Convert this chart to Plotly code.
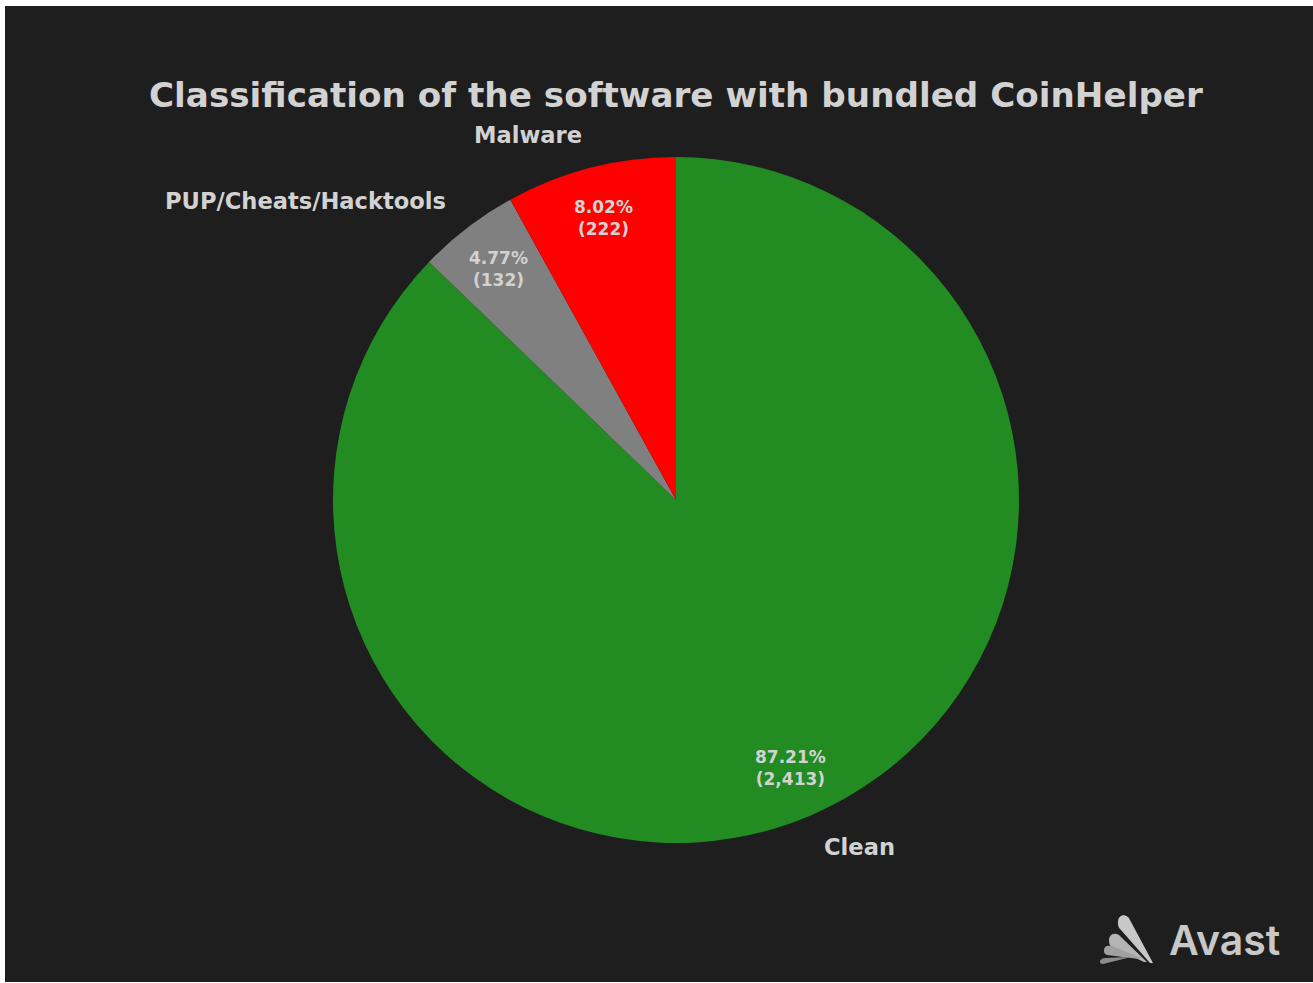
import numpy as np
import plotly.graph_objects as go

# ---- data ----
categories = ["Clean", "PUP/Cheats/Hacktools", "Malware"]
counts = [2413, 132, 222]
colors = ["#228B22", "#808080", "#FF0000"]
title_text = "Classification of the software with bundled CoinHelper"

W, H = 1313, 983
CX, CY, R = 676, 500, 343
BG = "#1e1e1e"
TXT = "#d2d2d2"
FONT = "DejaVu Sans"

fig = go.Figure()

# hidden pixel-coordinate axes for annotations/shapes
fig.add_trace(go.Scatter(x=[None], y=[None], showlegend=False, hoverinfo="skip"))

fig.add_trace(go.Pie(
    labels=categories,
    values=counts,
    marker=dict(colors=colors, line=dict(width=0)),
    sort=False,
    direction="clockwise",
    rotation=0,
    textinfo="none",
    hoverinfo="label+value+percent",
    showlegend=False,
    domain=dict(x=[(CX - R) / W, (CX + R) / W], y=[1 - (CY + R) / H, 1 - (CY - R) / H]),
))

total = float(np.sum(counts))
fracs = np.array(counts) / total
starts = np.concatenate([[0], np.cumsum(fracs)[:-1]])
mids = (starts + fracs / 2) * 2 * np.pi

annotations = []
for cat, v, f, m in zip(categories, counts, fracs, mids):
    sx, cy = np.sin(m), np.cos(m)
    # percentage labels
    annotations.append(dict(
        x=CX + R * 0.85 * sx, y=CY - R * 0.85 * cy, xref="x", yref="y",
        text=f"{f*100:.2f}%<br>({v:,})", showarrow=False,
        font=dict(family=FONT, size=17, color=TXT, weight="bold"),
        xanchor="center", yanchor="middle", align="center",
    ))
    # category labels
    annotations.append(dict(
        x=CX + R * 1.1 * sx, y=CY - R * 1.1 * cy, xref="x", yref="y",
        text=cat, showarrow=False,
        font=dict(family=FONT, size=22.6, color=TXT, weight="bold"),
        xanchor="left" if sx > 0 else "right", yanchor="middle",
        xshift=-2 if sx > 0 else 2,
    ))

annotations.append(dict(
    x=CX, y=95, xref="x", yref="y", text=title_text, showarrow=False,
    font=dict(family=FONT, size=34.2, color=TXT, weight="bold"),
    xanchor="center", yanchor="middle",
))
annotations.append(dict(
    x=1282, y=940, xref="x", yref="y", text="Avast", showarrow=False,
    font=dict(family="Inter", size=41, color="#c8c8c8", weight=600),
    xanchor="right", yanchor="middle",
))

shapes = [
    dict(type="rect", xref="x", yref="y", x0=5, x1=W, y0=6, y1=H - 1,
         fillcolor=BG, line=dict(width=0), layer="below"),
    # logo blades
    dict(type="path", xref="x", yref="y", layer="above", line=dict(width=0), fillcolor="#c8c8c8",
         path="M 1118 922 C 1118 914, 1127 913, 1130 920 L 1153 963 L 1150 963 L 1121 930 C 1118 927, 1118 925, 1118 922 Z"),
    dict(type="path", xref="x", yref="y", layer="above", line=dict(width=0), fillcolor="#b4b4b4",
         path="M 1109 939 C 1110 933, 1117 932, 1121 937 L 1147 962 L 1144 962 L 1112 947 C 1109 945, 1109 942, 1109 939 Z"),
    dict(type="path", xref="x", yref="y", layer="above", line=dict(width=0), fillcolor="#a0a0a0",
         path="M 1104 950 C 1104 946, 1108 945, 1112 946 L 1141 958 L 1139 959 L 1107 955 C 1104 954, 1104 952, 1104 950 Z"),
    dict(type="path", xref="x", yref="y", layer="above", line=dict(width=0), fillcolor="#8c8c8c",
         path="M 1100 962 C 1100 959, 1103 958, 1106 958 L 1128 957 L 1127 958 L 1103 964 C 1101 964, 1100 963, 1100 962 Z"),
]

fig.update_layout(
    width=W, height=H,
    margin=dict(l=0, r=0, t=0, b=0),
    paper_bgcolor="white",
    plot_bgcolor="rgba(0,0,0,0)",
    xaxis=dict(range=[0, W], visible=False, fixedrange=True),
    yaxis=dict(range=[H, 0], visible=False, fixedrange=True),
    annotations=annotations,
    shapes=shapes,
)

fig.write_html("out.html")
